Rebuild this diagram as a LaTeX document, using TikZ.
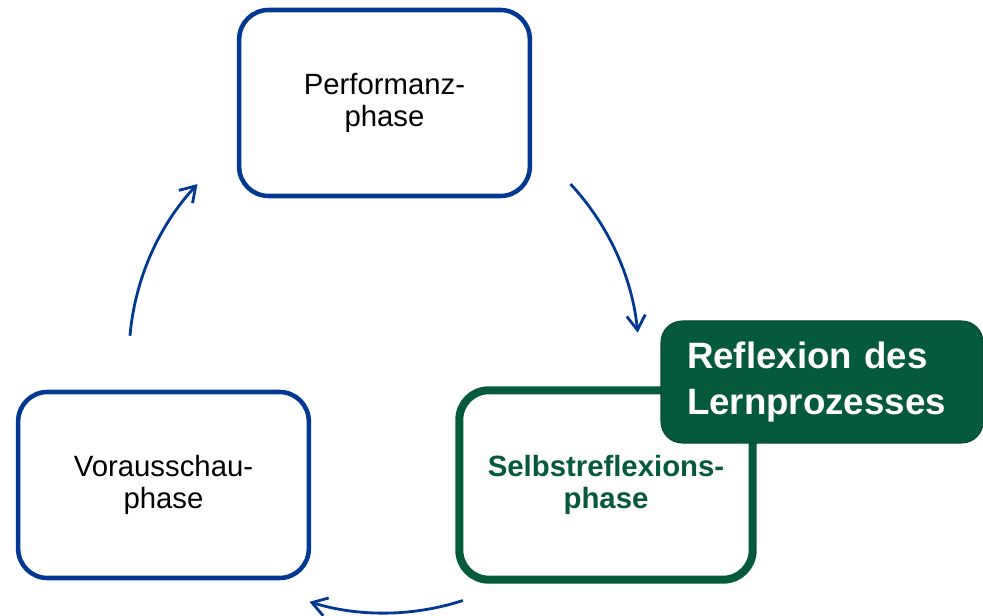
\documentclass[tikz,border=0pt]{standalone}
\usepackage{fontspec}
\setmainfont{Liberation Sans}
\usetikzlibrary{arrows.meta,calc}
\definecolor{myblue}{RGB}{0,56,147}
\definecolor{mygreen}{RGB}{4,90,58}
\begin{document}
\begin{tikzpicture}[x=0.75pt,y=0.75pt,
 phasebox/.style={draw=myblue, line width=3.4pt, rounded corners=22pt, minimum width=218pt, minimum height=139.5pt, align=center, font=\fontsize{22}{24}\selectfont, inner sep=0pt},
 greenbox/.style={phasebox, draw=mygreen, line width=6pt, minimum width=220pt, minimum height=142pt, text=mygreen, font=\fontsize{22}{24}\selectfont\bfseries},
 notebox/.style={fill=mygreen, draw=mygreen!85!black, line width=0.8pt, rounded corners=16pt, minimum width=241.5pt, minimum height=91.5pt, text=white, font=\fontsize{27.5}{34}\selectfont\bfseries, align=left, text width=202.5pt, inner xsep=19.5pt},
 arr/.style={draw=myblue, line width=2.1pt, -{Straight Barb[length=11pt,width=14pt,line width=2.1pt]}}
]
\useasboundingbox (0,0) rectangle (983,616);
\node[phasebox] (perf) at (384.5,513) {Performanz-\\phase};
\node[phasebox] (vor) at (163.5,131) {Vorausschau-\\phase};
\node[greenbox] (selb) at (606,131) {Selbstreflexions-\\phase};
\node[notebox] (refl) at (822,234) {Reflexion des\\Lernprozesses};
\coordinate (c) at (384,258);
\coordinate (a1) at ($(c)+(43:255)$);
\coordinate (a2) at ($(c)+(-72:255)$);
\coordinate (a3) at ($(c)+(175:255)$);
\draw[arr] (a1) arc[start angle=43, end angle=5.7, radius=255];
\draw[arr] (a2) arc[start angle=-72, end angle=-107, radius=255];
\draw[arr] (a3) arc[start angle=175, end angle=137, radius=255];
\end{tikzpicture}
\end{document}
